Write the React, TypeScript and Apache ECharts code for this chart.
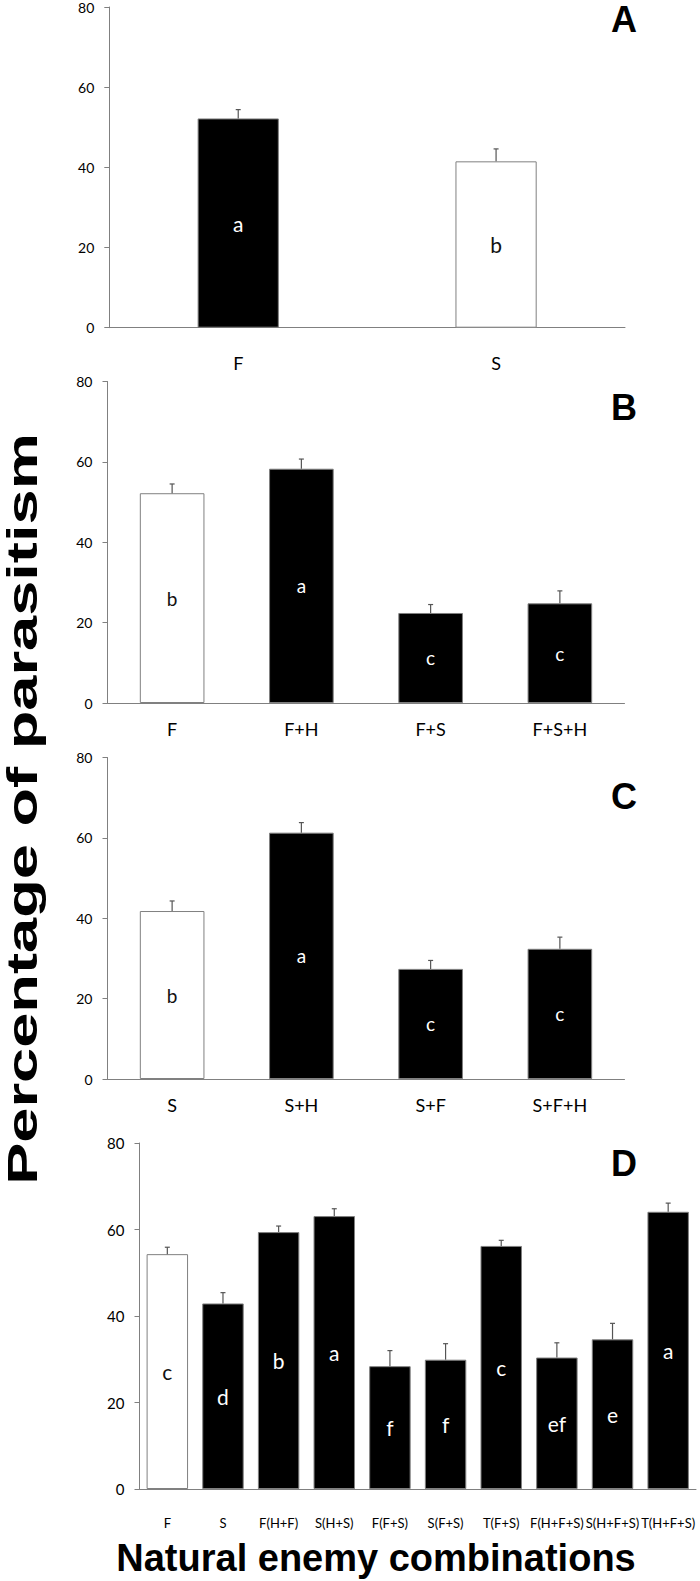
import React, { useEffect, useRef } from "react";
import * as echarts from "echarts";

// ---- data ----
const catA = ["F", "S"];
const valA = [52.2, 41.5];
const errA = [2.2, 3.1];
const letA = ["a", "b"];
const hollowA = 1;

const catB = ["F", "F+H", "F+S", "F+S+H"];
const valB = [52.2, 58.3, 22.4, 24.8];
const errB = [2.3, 2.4, 2.1, 3.1];
const letB = ["b", "a", "c", "c"];
const hollowB = 0;

const catC = ["S", "S+H", "S+F", "S+F+H"];
const valC = [41.8, 61.3, 27.4, 32.4];
const errC = [2.5, 2.5, 2.1, 2.9];
const letC = ["b", "a", "c", "c"];
const hollowC = 0;

const catD = ["F", "S", "F(H+F)", "S(H+S)", "F(F+S)", "S(F+S)", "T(F+S)", "F(H+F+S)", "S(H+F+S)", "T(H+F+S)"];
const valD = [54.3, 42.9, 59.4, 63.1, 28.4, 29.9, 56.2, 30.4, 34.6, 64.1];
const errD = [1.6, 2.5, 1.4, 1.7, 3.6, 3.7, 1.3, 3.4, 3.7, 2.0];
const letD = ["c", "d", "b", "a", "f", "f", "c", "ef", "e", "a"];
const hollowD = 0;

const yTicks = [0, 20, 40, 60, 80];
const panelNames = ["A", "B", "C", "D"];
const yTitle = "Percentage of parasitism";
const xTitle = "Natural enemy combinations";

const FONT = "Lato";
const AXIS = "#808080";

const panels = [
  { cat: catA, val: valA, err: errA, let: letA, hollow: hollowA, grid: { left: 109.3, top: 6, width: 515.7, height: 321.7 }, barW: "31.5%", xFont: 18, xMargin: 26, tickFont: 14, letFont: 21, nameY: 1 },
  { cat: catB, val: valB, err: errB, let: letB, hollow: hollowB, grid: { left: 107.5, top: 381.5, width: 517, height: 321.5 }, barW: "50%", xFont: 18, xMargin: 17, tickFont: 14, letFont: 19, nameY: 389 },
  { cat: catC, val: valC, err: errC, let: letC, hollow: hollowC, grid: { left: 107.5, top: 757.5, width: 517, height: 321.5 }, barW: "50%", xFont: 18, xMargin: 17, tickFont: 14, letFont: 19, nameY: 778 },
  { cat: catD, val: valD, err: errD, let: letD, hollow: hollowD, grid: { left: 139.5, top: 1143, width: 556.5, height: 346 }, barW: "74.5%", xFont: 13, xMargin: 27, tickFont: 15, letFont: 21, nameY: 1145 },
];

export default function App() {
  const ref = useRef<HTMLDivElement>(null);
  useEffect(() => {
    document.body.style.margin = "0";
    const chart = echarts.init(ref.current!, null, { renderer: "svg" });
    const grids: any[] = [];
    const xAxes: any[] = [];
    const yAxes: any[] = [];
    const series: any[] = [];
    panels.forEach((p, i) => {
      grids.push({ ...p.grid, containLabel: false });
      xAxes.push({
        type: "category",
        gridIndex: i,
        data: p.cat,
        axisLine: { show: true, lineStyle: { color: AXIS, width: 1 } },
        axisTick: { show: false },
        axisLabel: { fontFamily: FONT, fontSize: p.xFont, color: "#000", margin: p.xMargin, interval: 0 },
      });
      yAxes.push({
        type: "value",
        gridIndex: i,
        min: yTicks[0],
        max: yTicks[yTicks.length - 1],
        interval: yTicks[1] - yTicks[0],
        axisLine: { show: true, lineStyle: { color: AXIS, width: 1 } },
        axisTick: { show: true, inside: false, length: 5, lineStyle: { color: AXIS } },
        splitLine: { show: false },
        axisLabel: { fontFamily: FONT, fontSize: p.tickFont, color: "#000", margin: 15 },
      });
      series.push({
        type: "bar",
        xAxisIndex: i,
        yAxisIndex: i,
        barWidth: p.barW,
        data: p.val.map((v, k) => {
          const hollow = k === p.hollow;
          return {
            value: v,
            itemStyle: { color: hollow ? "#ffffff" : "#000000", borderColor: AXIS, borderWidth: 1 },
            label: { color: hollow ? "#111" : "#ffffff" },
          };
        }),
        label: {
          show: true,
          position: "inside",
          fontFamily: FONT,
          fontSize: p.letFont,
          formatter: (q: any) => p.let[q.dataIndex],
        },
      });
      series.push({
        type: "custom",
        xAxisIndex: i,
        yAxisIndex: i,
        z: 5,
        encode: { x: 0, y: 2 },
        data: p.val.map((v, k) => [k, v, v + p.err[k]]),
        renderItem: (params: any, api: any) => {
          const x = api.value(0);
          const p0 = api.coord([x, api.value(1)]);
          const p1 = api.coord([x, api.value(2)]);
          const st = { stroke: "#555", lineWidth: 1.2 };
          return {
            type: "group",
            children: [
              { type: "line", shape: { x1: p0[0], y1: p0[1], x2: p1[0], y2: p1[1] }, style: st },
              { type: "line", shape: { x1: p1[0] - 2.5, y1: p1[1], x2: p1[0] + 2.5, y2: p1[1] }, style: st },
            ],
          };
        },
      });
    });

    const graphics: any[] = panels.map((p, i) => ({
      type: "text",
      x: 637,
      y: p.nameY,
      style: { text: panelNames[i], font: 'bold 36px "Liberation Sans", Arial, sans-serif', fill: "#000", textAlign: "right", textVerticalAlign: "top" },
    }));
    graphics.push({
      type: "text",
      x: 22,
      y: 809,
      rotation: Math.PI / 2,
      scaleX: 1.47,
      style: { text: yTitle, font: 'bold 43px "Liberation Sans", Arial, sans-serif', fill: "#000", textAlign: "center", textVerticalAlign: "middle" },
    });
    graphics.push({
      type: "text",
      x: 376,
      y: 1558,
      style: { text: xTitle, font: 'bold 38px "Liberation Sans", Arial, sans-serif', fill: "#000", textAlign: "center", textVerticalAlign: "middle" },
    });

    chart.setOption({
      animation: false,
      backgroundColor: "#fff",
      grid: grids,
      xAxis: xAxes,
      yAxis: yAxes,
      series,
      graphic: graphics,
    });
    return () => chart.dispose();
  }, []);
  return <div ref={ref} style={{ width: 700, height: 1581 }} />;
}
